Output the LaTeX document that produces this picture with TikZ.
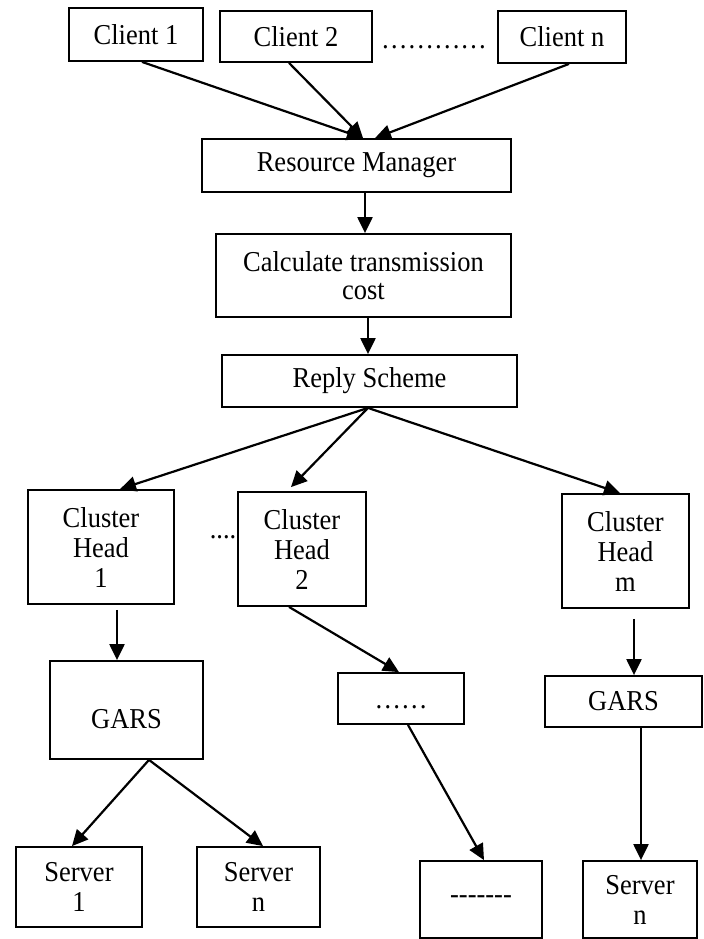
\documentclass[tikz,border=0pt]{standalone}
\usepackage{fontspec}
\setmainfont[FakeStretch=0.92]{Liberation Serif}
\usetikzlibrary{arrows.meta}
\begin{document}
\begin{tikzpicture}[x=0.5pt,y=-0.5pt,
 box/.style={draw,line width=0.9pt,inner sep=0pt,align=center,font=\fontsize{14.4}{15}\selectfont},
 txt/.style={inner sep=0pt,font=\fontsize{14.4}{15}\selectfont},
 arr/.style={line width=1.1pt,-{Triangle[length=8pt,width=7.5pt]}}]
\useasboundingbox (0,0) rectangle (704,939);
% top row
\node[box,minimum width=67pt,minimum height=26.5pt] (c1) at (136,34.5) {Client 1};
\node[box,minimum width=76pt,minimum height=25.5pt] (c2) at (296,36.5) {Client 2};
\node[box,minimum width=64pt,minimum height=26pt] (cn) at (562,37) {Client n};
\node[txt] (dtop) at (434,47) {…………};
% chain
\node[box,minimum width=154.5pt,minimum height=26.5pt] (rm) at (356.5,165.5) {Resource Manager};
\node[box,minimum width=147.5pt,minimum height=41.5pt,font=\fontsize{14.4}{14.2}\selectfont] (calc) at (363.5,275.5) {Calculate transmission\\cost};
\node[box,minimum width=147.5pt,minimum height=26pt] (reply) at (369.5,381) {Reply Scheme};
% cluster heads
\node[box,minimum width=73pt,minimum height=57pt] (ch1) at (101,547) {Cluster\\Head\\1};
\node[box,minimum width=64pt,minimum height=57pt] (ch2) at (302,549) {Cluster\\Head\\2};
\node[box,minimum width=63.5pt,minimum height=57pt] (chm) at (625.5,551) {Cluster\\Head\\m};
\node[txt] (dmid) at (223,537) {....};
% second level
\node[box,minimum width=76.5pt,minimum height=49pt] (g1) at (126.5,710) {};
\node[txt] (g1t) at (126.5,719) {GARS};
\node[box,minimum width=63pt,minimum height=25.5pt] (dbox) at (401,698.5) {};
\node[txt] (dboxt) at (401,707) {……};
\node[box,minimum width=78.5pt,minimum height=25.5pt] (g2) at (623.5,701.5) {GARS};
% servers
\node[box,minimum width=63pt,minimum height=40pt] (s1) at (79,887) {Server\\1};
\node[box,minimum width=61.5pt,minimum height=40pt] (sn) at (258.5,887) {Server\\n};
\node[box,minimum width=61pt,minimum height=38.5pt] (dash) at (481,899.5) {-\kern0pt-\kern0pt-\kern0pt-\kern0pt-\kern0pt-\kern0pt-};
\node[box,minimum width=57pt,minimum height=38.5pt] (sn2) at (640,899.5) {Server\\n};
% arrows
\draw[arr] ([xshift=3pt]c1.south) -- ([xshift=3.25pt]rm.north);
\draw[arr] ([xshift=-3.5pt]c2.south) -- ([xshift=3.25pt]rm.north);
\draw[arr] ([xshift=3.5pt]cn.south) -- ([xshift=9.25pt]rm.north);
\draw[arr] ([xshift=4.25pt]rm.south) -- ([xshift=0.75pt]calc.north);
\draw[arr] ([xshift=2.25pt]calc.south) -- ([xshift=-0.75pt]reply.north);
\draw[arr] ([xshift=-0.75pt]reply.south) -- ([xshift=9.5pt]ch1.north);
\draw[arr] ([xshift=-0.75pt]reply.south) -- ([xshift=-5.5pt,yshift=2pt]ch2.north);
\draw[arr] ([xshift=-0.75pt]reply.south) -- ([xshift=-2.75pt]chm.north);
\draw[arr] ([xshift=8pt,yshift=-2.5pt]ch1.south) -- ([xshift=-4.75pt]g1.north);
\draw[arr] ([xshift=-6.5pt]ch2.south) -- ([xshift=-1pt]dbox.north);
\draw[arr] ([xshift=4.25pt,yshift=-5pt]chm.south) -- ([xshift=5.25pt]g2.north);
\draw[arr] ([xshift=11.25pt]g1.south) -- ([xshift=-3.5pt]s1.north);
\draw[arr] ([xshift=11.25pt]g1.south) -- ([xshift=2.25pt]sn.north);
\draw[arr] ([xshift=3.5pt]dbox.south) -- ([xshift=1.5pt]dash.north);
\draw[arr] ([xshift=8.75pt]g2.south) -- ([xshift=0.5pt]sn2.north);
\end{tikzpicture}
\end{document}
